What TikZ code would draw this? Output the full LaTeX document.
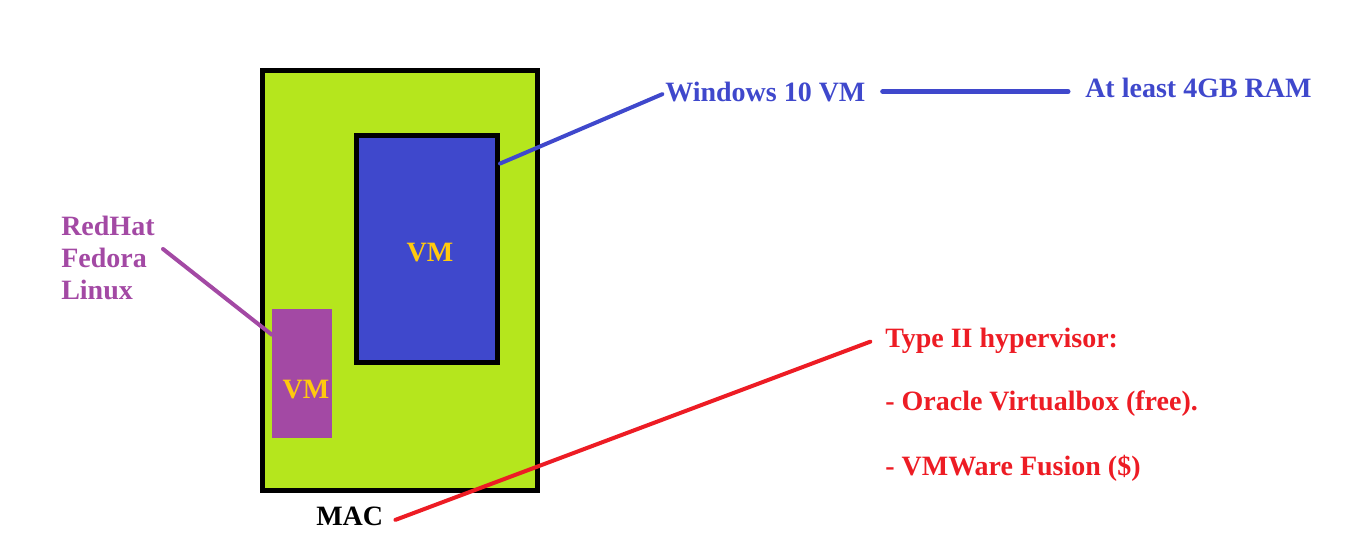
\documentclass[tikz,border=0pt]{standalone}
\usepackage{fontspec}
\setmainfont{Liberation Serif}
\usetikzlibrary{calc}
\definecolor{macgreen}{HTML}{B5E61D}
\definecolor{vmblue}{HTML}{3F48CC}
\definecolor{vmpurple}{HTML}{A349A4}
\definecolor{vmyellow}{HTML}{FFC90E}
\definecolor{hvred}{HTML}{ED1C24}
\tikzset{
  txt/.style={inner sep=0pt, font=\fontsize{21}{24}\selectfont\bfseries, anchor=base west},
  boxframe/.style={draw=black, line width=3.75pt, inner sep=0pt},
  conn/.style={line width=3pt, line cap=round},
}
\begin{document}
\begin{tikzpicture}[x=0.75pt,y=-0.75pt]
\useasboundingbox (0,0) rectangle (1352,557);
% boxes
\node[boxframe, fill=macgreen, minimum width=206.25pt, minimum height=315pt] (mac) at (400,280.5) {};
\node[boxframe, fill=vmblue, minimum width=105.4pt, minimum height=169.9pt] (vm1) at (427.25,249.25) {};
\node[fill=vmpurple, inner sep=0pt, minimum width=45pt, minimum height=96.75pt] (vm2) at (302,373.5) {};
\node[txt, text=vmyellow, anchor=center] (vm1t) at (430,253) {VM};
\node[txt, text=vmyellow, anchor=center] (vm2t) at (306,390) {VM};
% labels
\node[txt, text=black] (mact) at (316,525) {MAC};
\node[txt, text=vmpurple, align=left] (rh) at (61,299) {RedHat\\Fedora\\Linux};
\node[txt, text=vmblue] (win) at (665,101) {Windows 10 VM};
\node[txt, text=vmblue] (ram) at (1085,97) {At least 4GB RAM};
\node[txt, text=hvred] (hv) at (885,347) {Type II hypervisor:};
\node[txt, text=hvred] (vbox) at (885,410) {- Oracle Virtualbox (free).};
\node[txt, text=hvred] (fus) at (885,475) {- VMWare Fusion (\$)};
% connectors
\coordinate (rhp) at (163,249);
\draw[conn, vmpurple] (rhp) -- ($(vm2.north west)!0.2!(vm2.south west)$);
\draw[conn, vmblue] ($(vm1.north east)!0.13!(vm1.south east)$) -- ([xshift=-2pt,yshift=-2pt]win.west);
\draw[conn, vmblue, line width=3.75pt, shorten <=12.75pt, shorten >=12.75pt] (win.east) -- (ram.west |- win.east);
\draw[conn, hvred] ([xshift=9pt,yshift=-3pt]mact.east) -- ([xshift=-11pt,yshift=-1pt]hv.west);
\end{tikzpicture}
\end{document}
